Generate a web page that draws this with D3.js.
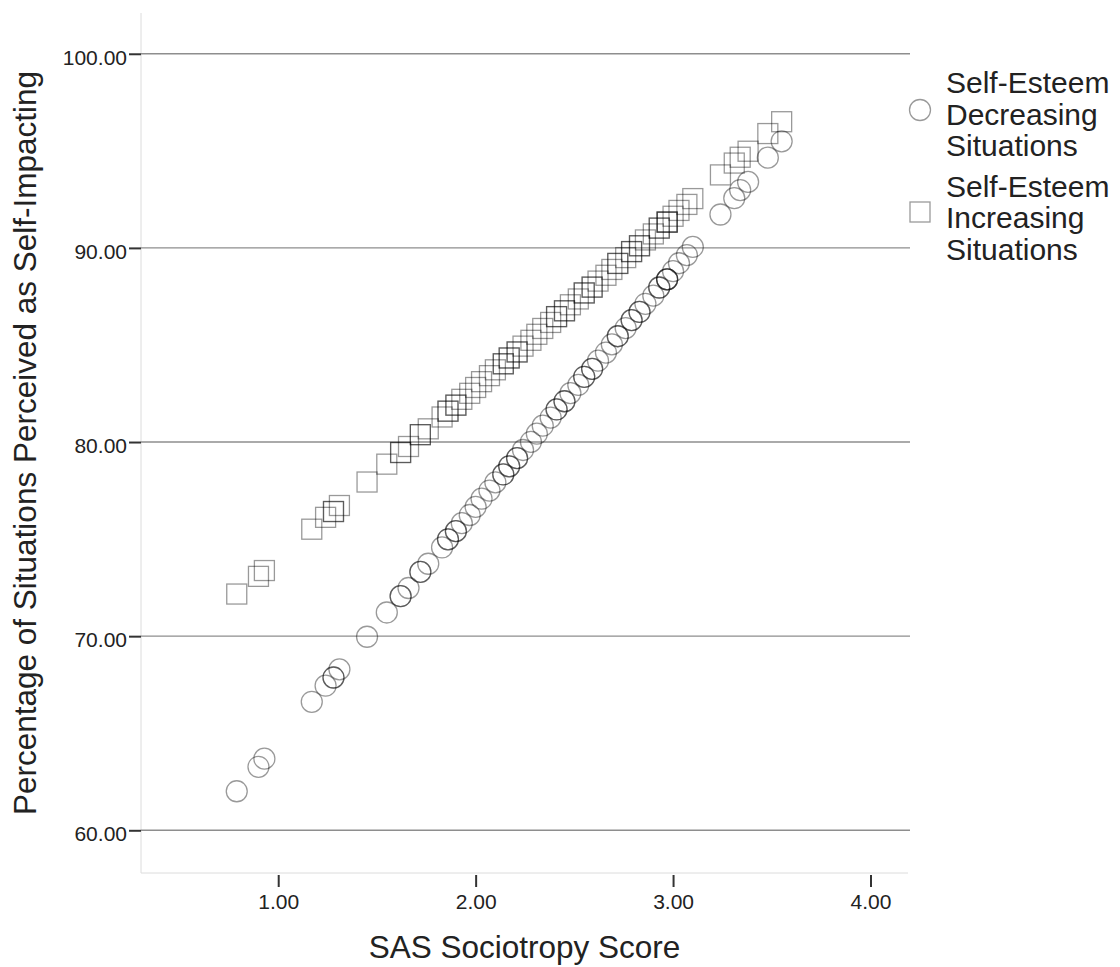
<!DOCTYPE html>
<html>
<head>
<meta charset="utf-8">
<script src="https://cdn.jsdelivr.net/npm/d3@7"></script>
<style>
  html, body { margin: 0; padding: 0; background: #fff; }
  svg { display: block; font-family: "Liberation Sans", Arial, sans-serif; }
</style>
</head>
<body>
<svg id="chart" width="1120" height="967"></svg>
<script>
// SAS sociotropy score for each participant
const sasScore = [0.79, 0.90, 0.93, 1.17, 1.24, 1.28, 1.28, 1.31, 1.45, 1.55,
  1.62, 1.62, 1.66, 1.72, 1.72, 1.76, 1.83, 1.86, 1.86, 1.90,
  1.90, 1.93, 1.97, 2.00, 2.03, 2.07, 2.10, 2.14, 2.14, 2.17,
  2.17, 2.21, 2.21, 2.24, 2.28, 2.31, 2.34, 2.38, 2.41, 2.41,
  2.45, 2.45, 2.48, 2.52, 2.55, 2.55, 2.59, 2.59, 2.62, 2.66,
  2.69, 2.72, 2.72, 2.76, 2.79, 2.79, 2.83, 2.83, 2.86, 2.90,
  2.93, 2.93, 2.97, 2.97, 2.97, 3.00, 3.03, 3.07, 3.10, 3.24,
  3.31, 3.34, 3.38, 3.48, 3.55];

// Percentage of self-esteem decreasing situations perceived as self-impacting
const decreasing = [62.01, 63.27, 63.69, 66.62, 67.45, 67.87, 67.87, 68.29, 69.97, 71.22,
  72.06, 72.06, 72.48, 73.31, 73.31, 73.73, 74.57, 74.99, 74.99, 75.41,
  75.41, 75.82, 76.24, 76.66, 77.08, 77.50, 77.92, 78.33, 78.33, 78.75,
  78.75, 79.17, 79.17, 79.59, 80.01, 80.43, 80.84, 81.26, 81.68, 81.68,
  82.10, 82.10, 82.52, 82.94, 83.36, 83.36, 83.77, 83.77, 84.19, 84.61,
  85.03, 85.45, 85.45, 85.87, 86.28, 86.28, 86.70, 86.70, 87.12, 87.54,
  87.96, 87.96, 88.38, 88.38, 88.38, 88.80, 89.21, 89.63, 90.05, 91.72,
  92.56, 92.98, 93.40, 94.65, 95.49];

// Percentage of self-esteem increasing situations perceived as self-impacting
const increasing = [72.17, 73.08, 73.38, 75.51, 76.12, 76.42, 76.42, 76.73, 77.94, 78.86,
  79.46, 79.46, 79.77, 80.38, 80.38, 80.68, 81.29, 81.59, 81.59, 81.90,
  81.90, 82.20, 82.51, 82.81, 83.11, 83.42, 83.72, 84.03, 84.03, 84.33,
  84.33, 84.64, 84.64, 84.94, 85.24, 85.55, 85.85, 86.16, 86.46, 86.46,
  86.76, 86.76, 87.07, 87.37, 87.68, 87.68, 87.98, 87.98, 88.29, 88.59,
  88.89, 89.20, 89.20, 89.50, 89.81, 89.81, 90.11, 90.11, 90.41, 90.72,
  91.02, 91.02, 91.33, 91.33, 91.33, 91.63, 91.93, 92.24, 92.54, 93.76,
  94.37, 94.67, 94.98, 95.89, 96.50];

const xTicks = [1, 2, 3, 4];
const yTicks = [60, 70, 80, 90, 100];
const legendLabels = [
  ["Self-Esteem", "Decreasing", "Situations"],
  ["Self-Esteem", "Increasing", "Situations"]
];
const xTitle = "SAS Sociotropy Score";
const yTitle = "Percentage of Situations Perceived as Self-Impacting";

const svg = d3.select("#chart");
const plot = { left: 141, right: 908, top: 13, bottom: 873 };

const x = d3.scaleLinear().domain([0.305, 4.19]).range([plot.left, plot.right]);
const y = d3.scaleLinear().domain([57.8, 102.1]).range([plot.bottom, plot.top]);

const fmt = d3.format(".2f");
const textColor = "#222";

// plot frame (left and bottom edges only)
svg.append("line")
  .attr("x1", plot.left).attr("x2", plot.left)
  .attr("y1", plot.top).attr("y2", plot.bottom)
  .attr("stroke", "#dcdcdc").attr("stroke-width", 1);
svg.append("line")
  .attr("x1", plot.left).attr("x2", plot.right)
  .attr("y1", plot.bottom).attr("y2", plot.bottom)
  .attr("stroke", "#dcdcdc").attr("stroke-width", 1);

// horizontal reference lines
svg.append("g").selectAll("line")
  .data(yTicks).join("line")
  .attr("x1", plot.left).attr("x2", plot.right + 2)
  .attr("y1", d => y(d)).attr("y2", d => y(d))
  .attr("stroke", "#8e8e8e").attr("stroke-width", 1.4);

// y axis
const yAxis = svg.append("g")
  .attr("transform", `translate(${plot.left},0)`)
  .call(d3.axisLeft(y).tickValues(yTicks).tickFormat(fmt).tickSize(12).tickPadding(2));
yAxis.select(".domain").remove();
yAxis.selectAll(".tick line").attr("stroke", "#333").attr("stroke-width", 2);
yAxis.selectAll(".tick text")
  .attr("dy", "0.5em")
  .attr("fill", textColor)
  .style("font-size", "21px");

// x axis
const xAxis = svg.append("g")
  .attr("transform", `translate(0,${plot.bottom + 2})`)
  .call(d3.axisBottom(x).tickValues(xTicks).tickFormat(fmt).tickSize(12).tickPadding(7));
xAxis.select(".domain").remove();
xAxis.selectAll(".tick line").attr("stroke", "#333").attr("stroke-width", 2);
xAxis.selectAll(".tick text")
  .attr("fill", textColor)
  .style("font-size", "21px");

// axis titles
svg.append("text")
  .attr("x", (plot.left + plot.right) / 2)
  .attr("y", 958)
  .attr("text-anchor", "middle")
  .attr("fill", textColor)
  .style("font-size", "31.5px")
  .text(xTitle);

svg.append("text")
  .attr("transform", `translate(36,${(plot.top + plot.bottom) / 2}) rotate(-90)`)
  .attr("text-anchor", "middle")
  .attr("fill", textColor)
  .style("font-size", "31.5px")
  .text(yTitle);

// markers
const markerStroke = "#000";
const markerOpacity = 0.4;
const r = 10.5;
const side = 20;

const pts = sasScore.map((s, i) => ({ s, dec: decreasing[i], inc: increasing[i] }));

svg.append("g").selectAll("circle")
  .data(pts).join("circle")
  .attr("cx", d => x(d.s))
  .attr("cy", d => y(d.dec))
  .attr("r", r)
  .attr("fill", "none")
  .attr("stroke", markerStroke)
  .attr("stroke-opacity", markerOpacity)
  .attr("stroke-width", 1.3);

svg.append("g").selectAll("rect")
  .data(pts).join("rect")
  .attr("x", d => x(d.s) - side / 2)
  .attr("y", d => y(d.inc) - side / 2)
  .attr("width", side)
  .attr("height", side)
  .attr("fill", "none")
  .attr("stroke", markerStroke)
  .attr("stroke-opacity", markerOpacity)
  .attr("stroke-width", 1.3);

// legend
const legend = svg.append("g");
const legendX = 946;
const lineStep = 31.5;
const groupTops = [93, 196.5];

legend.append("circle")
  .attr("cx", 920).attr("cy", 110).attr("r", r)
  .attr("fill", "none").attr("stroke", markerStroke)
  .attr("stroke-opacity", markerOpacity).attr("stroke-width", 1.3);
legend.append("rect")
  .attr("x", 920 - side / 2).attr("y", 212 - side / 2)
  .attr("width", side).attr("height", side)
  .attr("fill", "none").attr("stroke", markerStroke)
  .attr("stroke-opacity", markerOpacity).attr("stroke-width", 1.3);

legendLabels.forEach((lines, gi) => {
  lines.forEach((t, li) => {
    legend.append("text")
      .attr("x", legendX)
      .attr("y", groupTops[gi] + li * lineStep)
      .attr("fill", textColor)
      .style("font-size", "30px")
      .text(t);
  });
});
</script>
</body>
</html>
